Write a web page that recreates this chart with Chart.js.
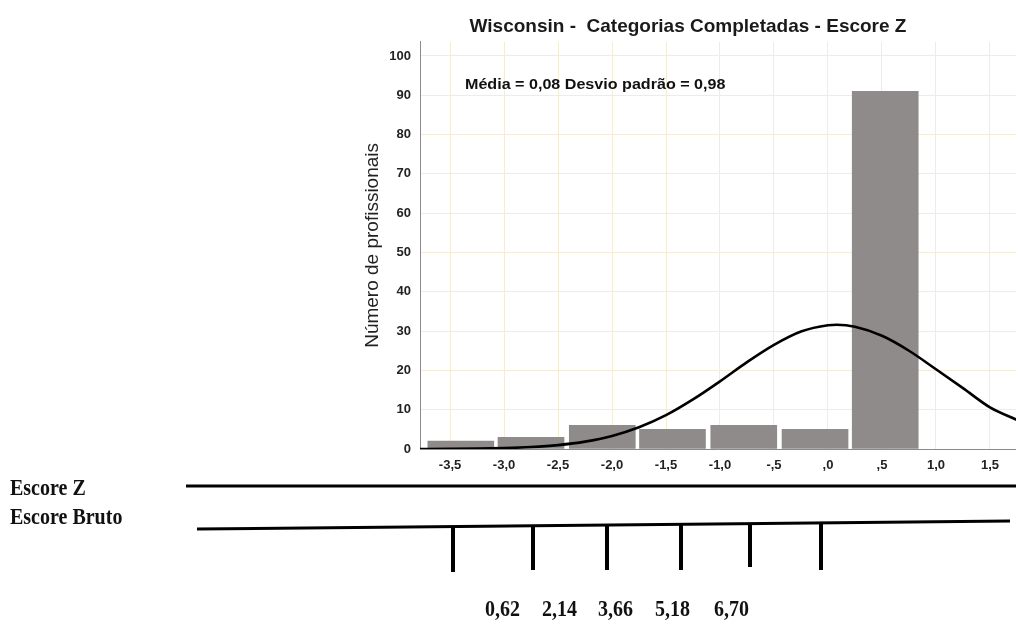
<!DOCTYPE html>
<html><head><meta charset="utf-8">
<script src="https://cdn.jsdelivr.net/npm/chart.js@4"></script>
<style>
html,body{margin:0;padding:0;background:#fff;width:1016px;height:621px;overflow:hidden;position:relative;font-family:"Liberation Sans",Arial,sans-serif}
#wrap{position:absolute;left:0;top:0;width:1016px;height:480px}
.lbl{position:absolute;white-space:nowrap;line-height:1;color:#111}
.sans{font-family:"Liberation Sans",Arial,sans-serif;font-weight:bold;transform-origin:0 50%}
.serif{font-family:"Liberation Serif","Times New Roman",serif;font-weight:bold;font-size:20px;transform-origin:0 50%;transform:scaleY(1.15)}
svg{position:absolute;left:0;top:0}
</style></head><body>
<div id="wrap"><canvas id="c"></canvas></div>
<svg id="ann" width="1016" height="621"></svg>
<div id="labels"></div>
<script>
// ---- data ----
const chartTitle = 'Wisconsin -  Categorias Completadas - Escore Z';
const yTitle = 'Número de profissionais';
const statsText = 'Média = 0,08 Desvio padrão = 0,98';
const binCenters = [-3.40, -2.75, -2.09, -1.44, -0.78, -0.12, 0.53];   // Escore Z
const counts = [2, 3, 6, 5, 6, 5, 91];
const curveZ = [-3.78, -3.5, -3.25, -3.0, -2.75, -2.5, -2.25, -2.0, -1.75, -1.5, -1.25, -1.0, -0.75, -0.5, -0.25, 0.0, 0.08, 0.25, 0.5, 0.75, 1.0, 1.25, 1.5, 1.75];
const curveCount = [0.01, 0.04, 0.1, 0.23, 0.49, 0.99, 1.87, 3.32, 5.53, 8.6, 12.6, 17.2, 22.1, 26.5, 29.9, 31.5, 31.6, 31.1, 28.8, 25.0, 20.3, 15.5, 10.6, 7.4];
const xTickValues = [-3.5, -3.0, -2.5, -2.0, -1.5, -1.0, -0.5, 0.0, 0.5, 1.0, 1.5];
const xTickLabels = ['-3,5', '-3,0', '-2,5', '-2,0', '-1,5', '-1,0', '-,5', ',0', ',5', '1,0', '1,5'];
const yTickValues = [0, 10, 20, 30, 40, 50, 60, 70, 80, 90, 100];
const rowLabels = ['Escore Z', 'Escore Bruto'];
const rawLabels = ['0,62', '2,14', '3,66', '5,18', '6,70'];

// ---- chart ----
const FONT = '"Liberation Sans", Arial, sans-serif';
const GRID = '#f3ecd8';
const AXIS = '#8a8a8a';

new Chart(document.getElementById('c'), {
  data: {
    datasets: [
      {
        type: 'line',
        data: curveZ.map((z, i) => ({x: z, y: curveCount[i]})),
        borderColor: '#000',
        borderWidth: 2.6,
        pointRadius: 0,
        cubicInterpolationMode: 'monotone',
        fill: false,
        order: 0
      },
      {
        type: 'bar',
        data: binCenters.map((z, i) => ({x: z, y: counts[i]})),
        backgroundColor: '#8f8b8b',
        borderWidth: 0,
        barThickness: 66,
        order: 1
      }
    ]
  },
  options: {
    responsive: true,
    maintainAspectRatio: false,
    animation: false,
    events: [],
    layout: {padding: {left: 360, right: 0, top: 0, bottom: 0}},
    plugins: {
      legend: {display: false},
      tooltip: {enabled: false},
      title: {
        display: true,
        text: chartTitle,
        color: '#1a1a1a',
        font: {family: FONT, size: 19, weight: 'bold', lineHeight: 1.2},
        padding: {top: 15, bottom: 4}
      }
    },
    scales: {
      x: {
        type: 'linear',
        offset: false,
        min: -3.778,
        max: 1.741,
        afterBuildTicks: s => { s.ticks = xTickValues.map(v => ({value: v})); },
        afterFit: s => { s.height = 31; },
        ticks: {
          callback: v => { const i = xTickValues.indexOf(v); return i >= 0 ? xTickLabels[i] : ''; },
          color: '#222',
          font: {family: FONT, size: 13, weight: 'bold'},
          padding: 9,
          maxRotation: 0,
          autoSkip: false
        },
        grid: {color: GRID, lineWidth: 1, drawTicks: false, offset: false},
        border: {display: true, color: AXIS, width: 1}
      },
      y: {
        type: 'linear',
        min: 0,
        max: 103.6,
        afterBuildTicks: s => { s.ticks = yTickValues.map(v => ({value: v})); },
        afterFit: s => { s.width = 60; },
        ticks: {
          color: '#222',
          font: {family: FONT, size: 13, weight: 'bold'},
          padding: 9
        },
        grid: {color: GRID, lineWidth: 1, drawTicks: false},
        border: {display: true, color: AXIS, width: 1},
        title: {
          display: true,
          text: yTitle,
          color: '#222',
          font: {family: FONT, size: 19, weight: 'normal'},
          padding: {top: 1, bottom: 0}
        }
      }
    }
  }
});

// ---- annotation below the chart (Escore Z / Escore Bruto rows) ----
const NS = 'http://www.w3.org/2000/svg';
const svg = document.getElementById('ann');
function ln(x1, y1, x2, y2, w) {
  const l = document.createElementNS(NS, 'line');
  l.setAttribute('x1', x1); l.setAttribute('y1', y1);
  l.setAttribute('x2', x2); l.setAttribute('y2', y2);
  l.setAttribute('stroke', '#000'); l.setAttribute('stroke-width', w);
  svg.appendChild(l);
}
ln(186, 486, 1016, 486, 3);
const bx1 = 197, by1 = 529, bx2 = 1010, by2 = 521;
ln(bx1, by1, bx2, by2, 3);
const tickX = [453, 533, 607, 681, 750, 821];
const tickBottom = [572, 570, 570, 570, 567, 570];
tickX.forEach((x, i) => {
  const yl = by1 + (by2 - by1) * (x - bx1) / (bx2 - bx1);
  ln(x, yl, x, tickBottom[i], 4);
});

const lab = document.getElementById('labels');
function addLabel(cls, text, left, top, extra) {
  const d = document.createElement('div');
  d.className = 'lbl ' + cls;
  d.textContent = text;
  d.style.left = left + 'px';
  d.style.top = top + 'px';
  if (extra) Object.assign(d.style, extra);
  lab.appendChild(d);
}
addLabel('sans', statsText, 465, 77, {fontSize: '14px', transform: 'scaleX(1.15)'});
addLabel('serif', rowLabels[0], 10, 477);
addLabel('serif', rowLabels[1], 10, 506);
const rawX = [485, 542, 598, 655, 714];
rawLabels.forEach((t, i) => addLabel('serif', t, rawX[i], 598));
</script>
</body></html>
